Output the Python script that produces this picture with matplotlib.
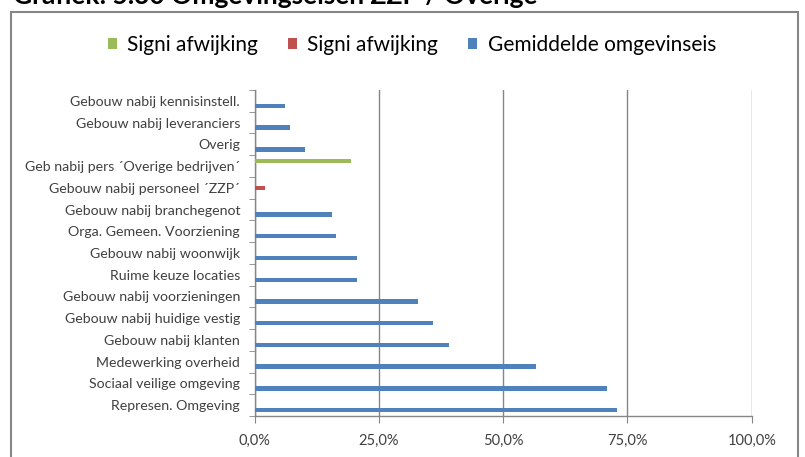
import numpy as np
import matplotlib.pyplot as plt
from matplotlib.patches import Rectangle

# ----------------------------
# Data (percentages), top to bottom as shown
# ----------------------------
categories = [
    "Gebouw nabij kennisinstell.",
    "Gebouw nabij leveranciers",
    "Overig",
    "Geb nabij pers \u00b4Overige bedrijven\u00b4",
    "Gebouw nabij personeel \u00b4ZZP\u00b4",
    "Gebouw nabij branchegenot",
    "Orga. Gemeen. Voorziening",
    "Gebouw nabij woonwijk",
    "Ruime keuze locaties",
    "Gebouw nabij voorzieningen",
    "Gebouw nabij huidige vestig",
    "Gebouw nabij klanten",
    "Medewerking overheid",
    "Sociaal veilige omgeving",
    "Represen. Omgeving",
]
green_vals = [0, 0, 0, 19.5, 0, 0, 0, 0, 0, 0, 0, 0, 0, 0, 0]
red_vals = [0, 0, 0, 0, 2.2, 0, 0, 0, 0, 0, 0, 0, 0, 0, 0]
blue_vals = [6.1, 7.2, 10.2, 0, 0, 15.5, 16.4, 20.6, 20.6, 32.9, 35.9,
             39.1, 56.6, 70.8, 72.9]
series_names = ["Signi afwijking", "Signi afwijking", "Gemiddelde omgevinseis"]
xticks = [0, 25, 50, 75, 100]
xtick_labels = ["0,0%", "25,0%", "50,0%", "75,0%", "100,0%"]

GREEN = "#9BBB59"
RED = "#C0504D"
BLUE = "#4F81BD"
GRAY = "#868686"
TEXT = "#404040"

plt.rcParams["font.family"] = ["Lato", "DejaVu Sans"]

fig = plt.figure(figsize=(8.05, 4.57), dpi=100)
W, H = 805, 457

# title, partly above the top edge
fig.text(13 / W, 1 - 4.5 / H, "Grafiek: 5.30 Omgevingseisen ZZP / Overige",
         fontsize=19, fontweight="bold", color="black", ha="left",
         va="baseline")

# chart frame
fig.patches.append(Rectangle((11 / W, -0.1), (798 - 11) / W, 1.1 - 12 / H,
                             transform=fig.transFigure, fill=False,
                             edgecolor=GRAY, linewidth=1.5))

ax = fig.add_axes([254.5 / W, 1 - 416 / H, (751.7 - 254.5) / W,
                   (416 - 90) / H])

n = len(categories)
y = np.arange(n)[::-1]
step = 0.23
h = 0.2
ax.barh(y - step, blue_vals, height=h, color=BLUE, label=series_names[2],
        zorder=3)
ax.barh(y, red_vals, height=h, color=RED, label=series_names[1], zorder=3)
ax.barh(y + step, green_vals, height=h, color=GREEN, label=series_names[0],
        zorder=3)

ax.set_xlim(0, 100)
ax.set_ylim(-0.5, n - 0.5)

ax.set_xticks(xticks)
ax.set_xticklabels(xtick_labels, fontsize=10.5, color=TEXT)
ax.tick_params(axis="x", length=5, color=GRAY, pad=8, direction="out")

ax.set_yticks(y)
ax.set_yticklabels(categories, fontsize=10.2, color=TEXT)
ax.tick_params(axis="y", which="major", length=0, pad=10.4)
ax.set_yticks(np.arange(n + 1) - 0.5, minor=True)
ax.tick_params(axis="y", which="minor", length=4, color=GRAY,
               direction="out")

ax.grid(axis="x", color=GRAY, linewidth=1, zorder=0)
for side in ["top", "right"]:
    ax.spines[side].set_visible(False)
for side in ["left", "bottom"]:
    ax.spines[side].set_color(GRAY)
    ax.spines[side].set_linewidth(1)

# legend along the top, in series order green, red, blue
handles, labels = ax.get_legend_handles_labels()
order = [2, 1, 0]
fig.legend([handles[i] for i in order], [labels[i] for i in order],
           loc="center", bbox_to_anchor=(412 / W, 1 - 45 / H), ncol=3,
           frameon=False, fontsize=15, handlelength=0.42, handleheight=0.42,
           handletextpad=0.5, columnspacing=1.45, labelcolor="black")

fig.savefig("out.png", dpi=100)
